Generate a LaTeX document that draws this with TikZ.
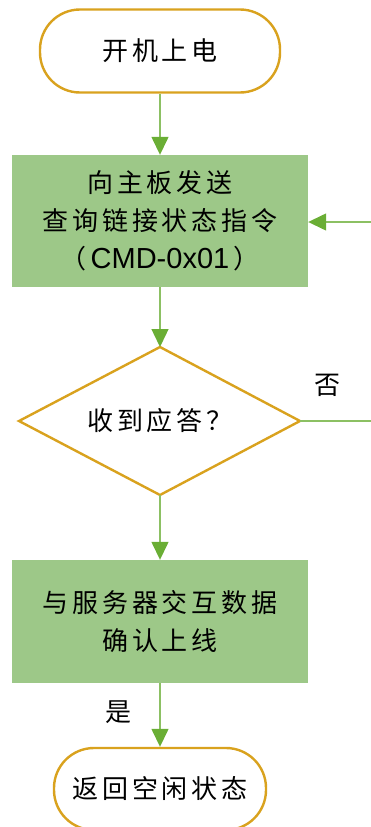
\documentclass[tikz,border=0pt]{standalone}
\usepackage{fontspec}
\setmainfont[LetterSpace=15]{Noto Sans CJK SC}
\newfontfamily\latinfont{Liberation Sans}
\usetikzlibrary{arrows.meta}
\definecolor{termline}{HTML}{D9A21E}
\definecolor{boxfill}{HTML}{9DC888}
\definecolor{lnk}{HTML}{8CC063}
\definecolor{tipc}{HTML}{6AAE35}
\tikzset{
  txt/.style={font=\fontsize{26}{38}\selectfont, align=center, inner sep=0pt},
  term/.style={txt, draw=termline, line width=2.4pt, fill=white, rounded corners=40pt},
  proc/.style={txt, fill=boxfill, minimum width=296pt},
  decline/.style={draw=termline, line width=2.4pt, line join=miter},
  lnkarrow/.style={draw=lnk, line width=1.4pt, -{Triangle[length=18pt,width=17pt,color=tipc]}},
  lnkline/.style={draw=lnk, line width=1.4pt},
  lbl/.style={txt}
}
\begin{document}
\begin{tikzpicture}[x=1pt,y=-1pt]
\useasboundingbox (0,0) rectangle (371,827);
\node[term, minimum width=240pt, minimum height=83pt] (start) at (160,51) {开机上电};
\node[proc, minimum height=132pt] (q) at (160,221) {向主板发送\\查询链接状态指令\\（\hspace{4pt}{\latinfont\addfontfeature{LetterSpace=0}\fontsize{29}{38}\selectfont CMD-0x01}\hspace{4pt}）};
\coordinate (dtop) at (160,347);
\coordinate (dbot) at (160,495);
\coordinate (dleft) at (19,421);
\coordinate (dright) at (300,421);
\draw[decline] (dtop) -- (dright) -- (dbot) -- (dleft) -- cycle;
\node[txt] (d) at (160,421) {收到应答？};
\node[proc, minimum height=123pt] (srv) at (160,621.5) {与服务器交互数据\\确认上线};
\node[term, minimum width=212pt, minimum height=82pt] (end) at (160,789) {返回空闲状态};
\coordinate (rtop) at (371,222);
\coordinate (rbot) at (371,421);
\draw[lnkarrow] (start) -- (q);
\draw[lnkarrow] (q) -- (dtop);
\draw[lnkarrow] (dbot) -- (srv);
\draw[lnkarrow] (srv) -- (end);
\draw[lnkline] (dright) -- (rbot);
\draw[lnkarrow] (rtop) -- (q.east |- rtop);
\node[lbl] (no) at (327,385) {否};
\node[lbl] (yes) at (118,712) {是};
\end{tikzpicture}
\end{document}
